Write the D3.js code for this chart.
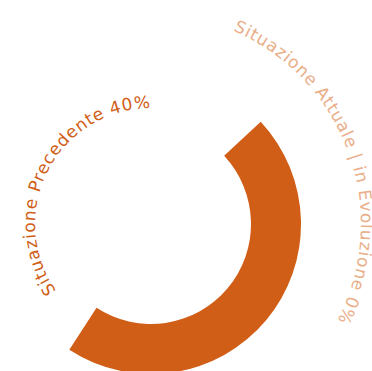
<!DOCTYPE html>
<html>
<head>
<meta charset="utf-8">
<script src="https://cdn.jsdelivr.net/npm/d3@7"></script>
<style>
  body { margin: 0; background: #fff; }
  .bar-label { font-family: 'DejaVu Sans', sans-serif; font-size: 17px; letter-spacing: 0.8px; }
</style>
</head>
<body>
<svg id="chart" width="372" height="371"></svg>
<script>
'use strict';

var CATEGORIES = ['Situazione Precedente', 'Situazione Attuale | in Evoluzione'];
var VALUES = [40, 0];
var VALUE_MAX = 100;

var BAR_COLOR = '#d05e17';
var LABEL_COLORS = ['#d05e17', '#eaae89'];
var DEG = Math.PI / 180;

var svg = d3.select('#chart');
var g = svg.append('g')
  .attr('transform', 'translate(151, 224)');

// value -> angle, radians clockwise from 12 o'clock
var angle = d3.scaleLinear()
  .domain([0, VALUE_MAX])
  .range([47 * DEG, (47 + 166 * 2.5) * DEG]);

// category -> ring
var radius = d3.scaleBand()
  .domain(CATEGORIES)
  .range([100, 244])
  .paddingInner(0.468)
  .paddingOuter(0);

var data = CATEGORIES.map(function(c, i) {
  return { category: c, value: VALUES[i], index: i };
});

var arc = d3.arc()
  .innerRadius(function(d) { return radius(d.category); })
  .outerRadius(function(d) { return radius(d.category) + radius.bandwidth(); })
  .startAngle(angle(0))
  .endAngle(function(d) { return angle(d.value); });

g.selectAll('path.bar')
  .data(data)
  .enter()
  .append('path')
  .attr('class', 'bar')
  .attr('d', arc)
  .style('fill', BAR_COLOR)
  .style('opacity', function(d) { return d.index === 0 ? 1 : 0.5; });

// label paths: first one ends at the top, second starts a bit after it
var LABEL_SPAN = [[-170, 0], [23, 190]];

g.selectAll('path.label-path')
  .data(data)
  .enter()
  .append('path')
  .attr('class', 'label-path')
  .attr('id', function(d) { return 'label-path-' + d.index; })
  .attr('d', function(d) {
    var r = radius(d.category) + 16;
    var span = LABEL_SPAN[d.index];
    var p = d3.path();
    p.arc(0, 0, r, span[0] * DEG - Math.PI / 2, span[1] * DEG - Math.PI / 2, false);
    return p.toString();
  })
  .style('fill', 'none');

g.selectAll('text.bar-label')
  .data(data)
  .enter()
  .append('text')
  .attr('class', 'bar-label')
  .style('fill', function(d) { return LABEL_COLORS[d.index]; })
  .append('textPath')
  .attr('href', function(d) { return '#label-path-' + d.index; })
  .attr('startOffset', function(d) { return d.index === 0 ? '100%' : '0%'; })
  .attr('text-anchor', function(d) { return d.index === 0 ? 'end' : 'start'; })
  .text(function(d) { return d.category + ' ' + d.value + '%'; });
</script>
</body>
</html>
